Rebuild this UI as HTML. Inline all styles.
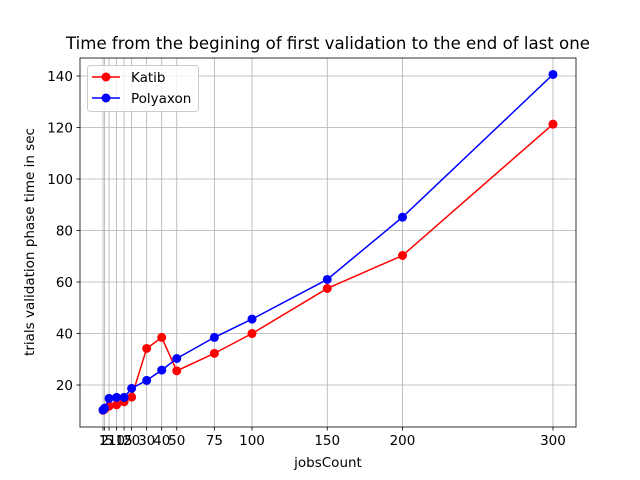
<!DOCTYPE html>
<html><head><meta charset="utf-8"><style>body{margin:0;background:#fff}svg{display:block;font-family:"DejaVu Sans","Liberation Sans",sans-serif}</style></head>
<body>
<svg id="c" width="640" height="480"></svg>
<script>
const xTicks=[1,2,5,10,15,20,30,40,50,75,100,150,200,300];
const jobs=[1,2,5,10,15,20,30,40,50,75,100,150,200,300];
const katib=[10.2,10.6,11.8,12.3,13.5,15.3,34.2,38.5,25.5,32.3,40,57.5,70.3,121.3];
const polyaxon=[10.3,11,14.8,15.2,15.2,18.7,21.8,25.8,30.3,38.5,45.6,61,85.2,140.6];
const yTicks=[20,40,60,80,100,120,140];
const L=80,R=576,T=58,B=427,xmin=-14.3,xmax=315.3,ymin=3.7,ymax=147;
const X=v=>L+(v-xmin)/(xmax-xmin)*(R-L);
const Y=v=>B-(v-ymin)/(ymax-ymin)*(B-T);
const s=document.getElementById('c');const NS='http://www.w3.org/2000/svg';
function mk(t,a,p){const e=document.createElementNS(NS,t);for(const k in a)e.setAttribute(k,a[k]);(p||s).appendChild(e);return e;}
xTicks.forEach(v=>{const g=mk('line',{x1:X(v),x2:X(v),y1:T,y2:B,stroke:'#b0b0b0','stroke-width':0.8});


mk('line',{x1:X(v),x2:X(v),y1:B,y2:B+3.5,stroke:'#000','stroke-width':0.8});
const t=mk('text',{x:X(v),y:B+18,'text-anchor':'middle','font-size':13.5});t.textContent=v;

});
yTicks.forEach(v=>{const g=mk('line',{x1:L,x2:R,y1:Y(v),y2:Y(v),stroke:'#b0b0b0','stroke-width':0.8});


mk('line',{x1:L-3.5,x2:L,y1:Y(v),y2:Y(v),stroke:'#000','stroke-width':0.8});
const t=mk('text',{x:L-7,y:Y(v)+5,'text-anchor':'end','font-size':13.5});t.textContent=v;

});
function series(d,c,n){const p=mk('polyline',{points:d.map((v,i)=>X(jobs[i])+','+Y(v)).join(' '),fill:'none',stroke:c,'stroke-width':1.5});


d.forEach((v,i)=>{const m=mk('circle',{cx:X(jobs[i]),cy:Y(v),r:4.5,fill:c});

});}
series(katib,'#ff0000','katib');series(polyaxon,'#0000ff','polyaxon');
const f=mk('rect',{x:L,y:T,width:R-L,height:B-T,fill:'none',stroke:'#000','stroke-width':0.8});


const lg=mk('g',{});


mk('rect',{x:87.5,y:65.5,width:111,height:46,rx:3,fill:'#fff','fill-opacity':0.8,stroke:'#ccc'},lg);
[['Katib','#ff0000',77],['Polyaxon','#0000ff',98]].forEach(([n,c,y])=>{
mk('line',{x1:92,x2:120,y1:y,y2:y,stroke:c,'stroke-width':1.5},lg);mk('circle',{cx:106,cy:y,r:4.5,fill:c},lg);
const t=mk('text',{x:131,y:y+5,'font-size':13.5},lg);t.textContent=n;

});
const ti=mk('text',{x:328,y:49,'text-anchor':'middle','font-size':16.6});ti.textContent='Time from the begining of first validation to the end of last one';


const xl=mk('text',{x:328,y:467,'text-anchor':'middle','font-size':13.5});xl.textContent='jobsCount';


const yl=mk('text',{x:34,y:242,'text-anchor':'middle','font-size':13.5,transform:'rotate(-90 34 242)'});yl.textContent='trials validation phase time in sec';


</script>
</body></html>
